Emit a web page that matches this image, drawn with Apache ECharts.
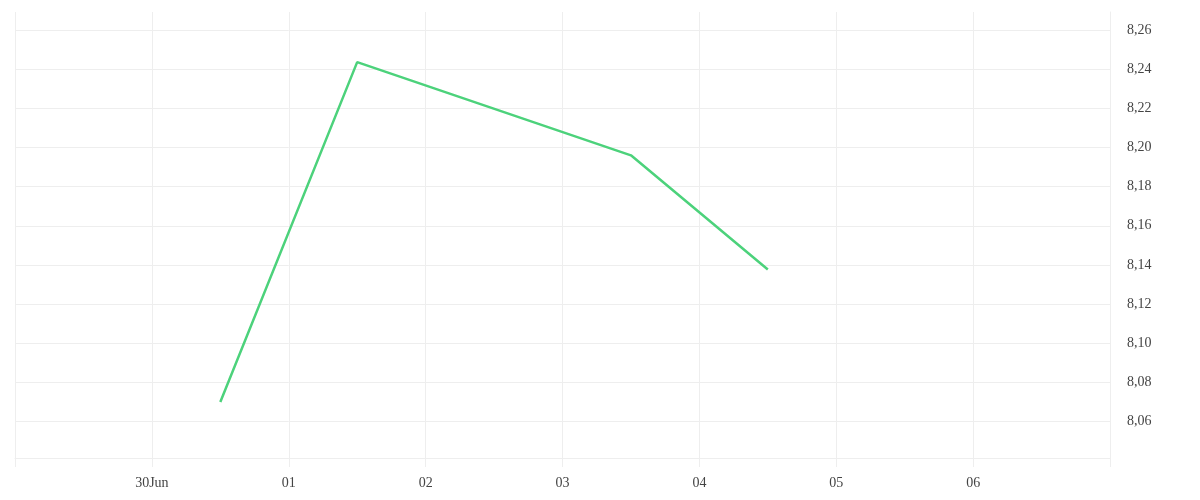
<!DOCTYPE html>
<html lang="en">
<head>
    <meta charset="UTF-8">
    <title>Price</title>
    <script src="https://cdn.jsdelivr.net/npm/echarts@6/dist/echarts.min.js"></script>
    <style>
        html,body{margin:0;padding:0;background:#fff;}
        #chart{width:1200px;height:500px;}
    </style>
</head>
<body>
<div id="chart"></div>
<script>
    // data
    var times=['2023-06-30 12:00','2023-07-01 12:00','2023-07-03 12:00','2023-07-04 12:00'];
    var values=[8.070,8.2436,8.196,8.1377];
    var axisStart='2023-06-29 00:00';
    var axisEnd='2023-07-07 00:00';
    var yMin=8.0414, yMax=8.2692;
    var tickDays=[30,1,2,3,4,5,6];
    var tickLabels=['30Jun','01','02','03','04','05','06'];

    var grey='#eeeeee';
    var font='"Liberation Serif", serif';

    function dayLabel(value) {
        var d=new Date(value);
        var i=tickDays.indexOf(d.getDate());
        if(i<0||d.getHours()!==0) return '';
        return tickLabels[i];
    }
    function yLabel(v) {
        return v.toFixed(2).replace('.',',');
    }

    var points=[];
    for(var i=0;i<times.length;i++){
        points.push([times[i],values[i]]);
    }

    var option={
        animation:false,
        grid:{left:15,right:90,top:12,bottom:42},
        xAxis:{
            type:'time',
            min:axisStart,
            max:axisEnd,
            minInterval:86400000,
            maxInterval:86400000,
            axisLine:{show:true,lineStyle:{color:grey,width:1}},
            axisTick:{show:true,length:9,lineStyle:{color:grey}},
            splitLine:{show:true,showMinLine:true,showMaxLine:true,lineStyle:{color:grey,width:1}},
            axisLabel:{
                showMinLabel:false,
                showMaxLabel:false,
                margin:18,
                color:'#444',
                fontFamily:font,
                fontSize:14,
                formatter:dayLabel
            }
        },
        yAxis:{
            type:'value',
            position:'right',
            min:yMin,
            max:yMax,
            splitNumber:10,
            axisLine:{show:true,lineStyle:{color:grey}},
            axisTick:{show:false},
            splitLine:{show:true,showMinLine:true,showMaxLine:false,lineStyle:{color:grey,width:1}},
            axisLabel:{
                showMinLabel:false,
                showMaxLabel:false,
                margin:17,
                padding:[10,0,0,0],
                color:'#444',
                fontFamily:font,
                fontSize:14,
                formatter:yLabel
            }
        },
        series:[{
            type:'line',
            data:points,
            showSymbol:false,
            lineStyle:{color:'#4cd27b',width:2.5},
            itemStyle:{color:'#4cd27b'}
        }]
    };
    var chart=echarts.init(document.getElementById('chart'));
    chart.setOption(option);
</script>
</body>
</html>
